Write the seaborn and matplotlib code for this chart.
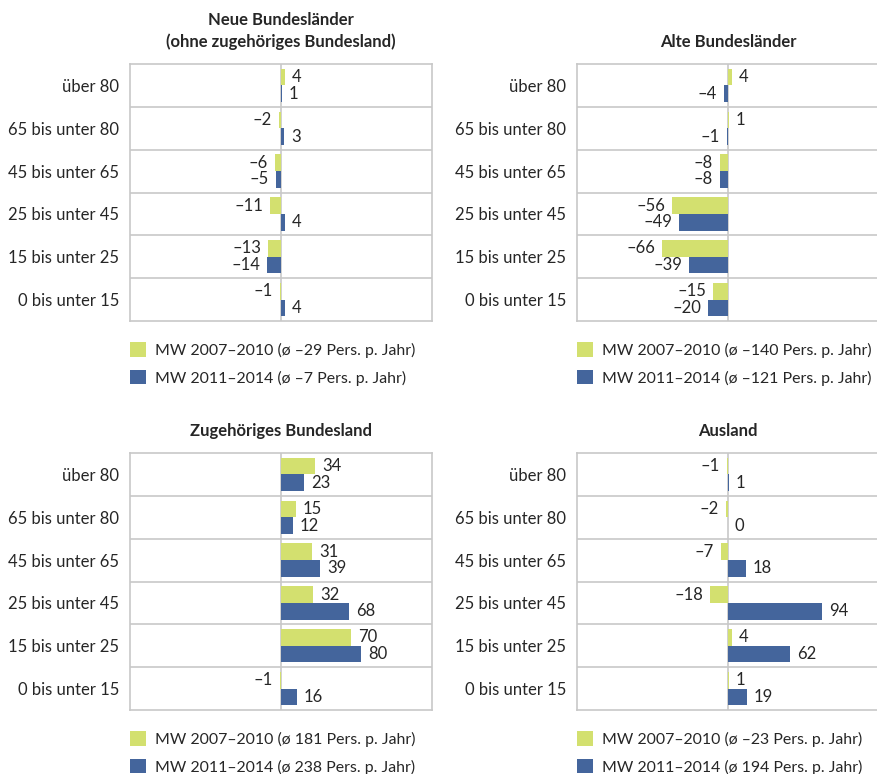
import pandas as pd
import seaborn as sns
import matplotlib.pyplot as plt
from matplotlib.patches import Patch

categories = ["über 80", "65 bis unter 80", "45 bis unter 65",
              "25 bis unter 45", "15 bis unter 25", "0 bis unter 15"]
series_names = ["MW 2007–2010", "MW 2011–2014"]

titles = ["Neue Bundesländer\n(ohne zugehöriges Bundesland)", "Alte Bundesländer",
          "Zugehöriges Bundesland", "Ausland"]

neue_0710 = [4, -2, -6, -11, -13, -1]
neue_1114 = [1, 3, -5, 4, -14, 4]
alte_0710 = [4, 1, -8, -56, -66, -15]
alte_1114 = [-4, -1, -8, -49, -39, -20]
zug_0710 = [34, 15, 31, 32, 70, -1]
zug_1114 = [23, 12, 39, 68, 80, 16]
aus_0710 = [-1, -2, -7, -18, 4, 1]
aus_1114 = [1, 0, 18, 94, 62, 19]

legend_texts = [
    ["MW 2007–2010 (ø –29 Pers. p. Jahr)", "MW 2011–2014 (ø –7 Pers. p. Jahr)"],
    ["MW 2007–2010 (ø –140 Pers. p. Jahr)", "MW 2011–2014 (ø –121 Pers. p. Jahr)"],
    ["MW 2007–2010 (ø 181 Pers. p. Jahr)", "MW 2011–2014 (ø 238 Pers. p. Jahr)"],
    ["MW 2007–2010 (ø –23 Pers. p. Jahr)", "MW 2011–2014 (ø 194 Pers. p. Jahr)"],
]

panel_data = [(neue_0710, neue_1114), (alte_0710, alte_1114),
              (zug_0710, zug_1114), (aus_0710, aus_1114)]

green = "#d3e06f"
blue = "#44659c"
frame = "#c8c8c8"
text_col = "#262626"

sns.set_theme(style="white")
plt.rcParams['font.family'] = ['Lato', 'DejaVu Sans']
plt.rcParams['text.color'] = text_col

fig = plt.figure(figsize=(8.77, 7.74), dpi=100)
W, H = 877, 774

# axes boxes in pixels: left, top, width, height
boxes = [(130, 64, 302, 257), (577, 64, 302, 257),
         (130, 453, 302, 257), (577, 453, 302, 257)]

for i, (box, (s1, s2)) in enumerate(zip(boxes, panel_data)):
    l, t, w, h = box
    ax = fig.add_axes([l / W, (H - t - h) / H, w / W, h / H])

    df = pd.DataFrame({
        "cat": categories * 2,
        "value": s1 + s2,
        "series": [series_names[0]] * 6 + [series_names[1]] * 6,
    })
    sns.barplot(data=df, y="cat", x="value", hue="series", orient="h",
                palette=[green, blue], width=0.78, legend=False, ax=ax,
                saturation=1, linewidth=0)

    for cont, vals in zip(ax.containers, (s1, s2)):
        labels = [str(v).replace("-", "–") for v in vals]
        ax.bar_label(cont, labels=labels, padding=5, fontsize=12, color=text_col)

    ax.set_xlim(-151, 151)
    ax.set_ylim(5.5, -0.5)
    ax.axvline(0, color=frame, lw=1.2, zorder=0)
    for y in [0.5, 1.5, 2.5, 3.5, 4.5]:
        ax.axhline(y, color=frame, lw=1.2, zorder=0)
    for sp in ax.spines.values():
        sp.set_color(frame)
        sp.set_linewidth(1.2)

    ax.set_xticks([])
    ax.set_xlabel("")
    ax.set_ylabel("")
    ax.tick_params(axis="y", length=0, pad=8, labelsize=12, labelcolor=text_col)
    ax.set_title(titles[i], fontsize=12, fontweight="bold", pad=12, color=text_col,
                 linespacing=1.4)

    handles = [Patch(facecolor=green, edgecolor="none"),
               Patch(facecolor=blue, edgecolor="none")]
    ax.legend(handles, legend_texts[i], loc="upper left",
              bbox_to_anchor=(0, -0.083), frameon=False, fontsize=11.4,
              handlelength=1.0, handleheight=1.0, handletextpad=0.6,
              labelspacing=0.78, borderaxespad=0, borderpad=0)

plt.savefig("out.png", dpi=100)
